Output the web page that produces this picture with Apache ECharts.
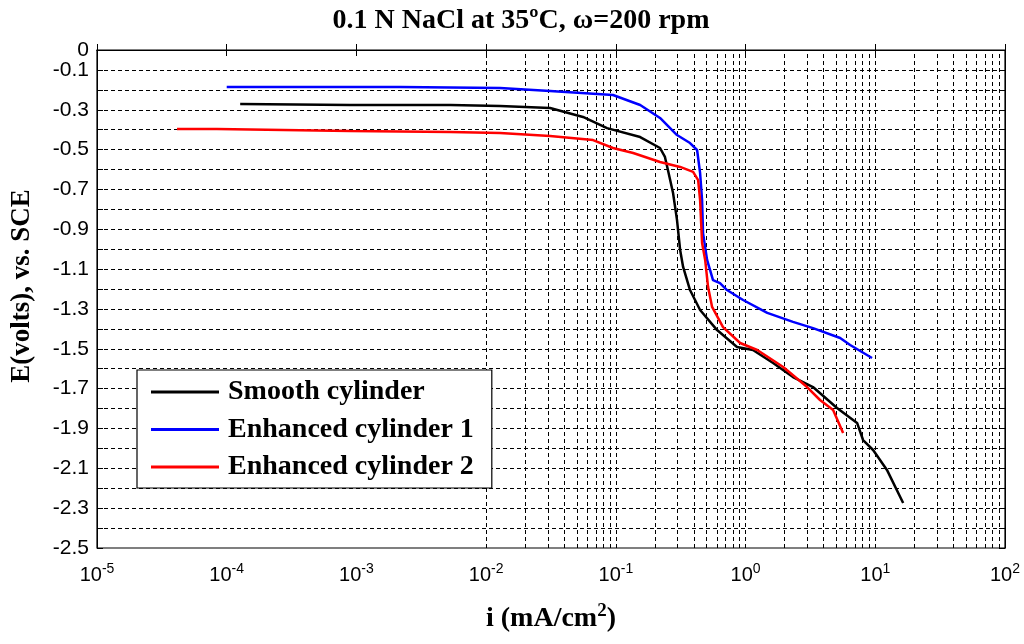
<!DOCTYPE html>
<html>
<head>
<meta charset="utf-8">
<script src="https://cdn.jsdelivr.net/npm/echarts@6/dist/echarts.min.js"></script>
<style>
html,body{margin:0;padding:0;background:#fff;}
#chart{width:1024px;height:644px;}
</style>
</head>
<body>
<div id="chart"></div>
<script>
// ---- data (current density i in mA/cm2, potential E in volts vs SCE) ----
const seriesNames = ['Smooth cylinder', 'Enhanced cylinder 1', 'Enhanced cylinder 2'];

const smoothI = [1.27e-4, 8.9e-4, 5.3e-3, 0.0128, 0.0311, 0.0558, 0.0855, 0.154, 0.219, 0.239, 0.252, 0.276, 0.296, 0.313, 0.330, 0.373, 0.446, 0.603, 0.859, 1.14, 1.63, 2.32, 3.31, 5.07, 7.24, 8.05, 9.62, 12.3, 16.4];
const smoothE = [-0.271, -0.276, -0.276, -0.281, -0.291, -0.336, -0.392, -0.437, -0.492, -0.537, -0.602, -0.718, -0.853, -1.004, -1.089, -1.205, -1.305, -1.406, -1.491, -1.506, -1.571, -1.642, -1.692, -1.797, -1.872, -1.958, -2.008, -2.108, -2.274];

const enh1I = [1.0e-4, 2.17e-3, 0.0128, 0.0311, 0.095, 0.154, 0.219, 0.296, 0.373, 0.423, 0.446, 0.462, 0.470, 0.505, 0.532, 0.561, 0.635, 0.719, 0.957, 1.47, 2.32, 3.31, 5.36, 6.40, 9.44];
const enh1E = [-0.186, -0.186, -0.191, -0.206, -0.226, -0.276, -0.341, -0.427, -0.467, -0.502, -0.617, -0.753, -0.919, -1.054, -1.104, -1.155, -1.170, -1.205, -1.255, -1.320, -1.365, -1.396, -1.446, -1.481, -1.546];

const enh2I = [4.14e-5, 8.4e-5, 8.6e-5, 8.9e-4, 5.3e-3, 0.0128, 0.0311, 0.0667, 0.095, 0.136, 0.219, 0.313, 0.394, 0.431, 0.446, 0.462, 0.488, 0.514, 0.552, 0.670, 0.908, 1.23, 1.95, 2.98, 3.75, 4.73, 5.65];
const enh2E = [-0.397, -0.397, -0.402, -0.407, -0.412, -0.417, -0.432, -0.452, -0.492, -0.517, -0.562, -0.587, -0.612, -0.653, -0.753, -0.969, -1.054, -1.190, -1.290, -1.391, -1.471, -1.506, -1.591, -1.692, -1.757, -1.807, -1.923];

const seriesColors = ['#000000', '#0000ff', '#ff0000'];

// ---- helpers ----
function zip(xs, ys) { return xs.map((x, k) => [x, ys[k]]); }
const gridLines = [];
for (let d = -5; d <= 1; d++) {
  for (let m = (d === -5 ? 2 : 1); m <= 9; m++) gridLines.push({ xAxis: m * Math.pow(10, d) });
}
for (let k = 1; k <= 24; k++) gridLines.push({ yAxis: -k / 10 });
const dash = [4, 3];

const chart = echarts.init(document.getElementById('chart'), null, { renderer: 'canvas' });

const xAxisBase = {
  type: 'log', logBase: 10, min: 1e-5, max: 100, interval: 1,
  axisLine: { show: true, lineStyle: { color: '#000', width: 1 } },
  axisTick: { show: true, inside: true, length: 6, lineStyle: { color: '#000' } },
  minorTick: { show: false },
  splitLine: { show: false }
};
const yAxisBase = {
  type: 'value', min: -2.5, max: 0, interval: 0.1,
  axisLine: { show: true, lineStyle: { color: '#000', width: 1 } },
  axisTick: { show: true, inside: true, length: 6, lineStyle: { color: '#000' } },
  splitLine: { show: false }
};
const yLabelStyle = { margin: 8, color: '#000', fontFamily: 'Liberation Sans', fontSize: 21, hideOverlap: false };

const option = {
  backgroundColor: '#fff',
  animation: false,
  grid: { left: 97, top: 50, right: 19, bottom: 96, show: true, borderColor: '#000', borderWidth: 1.2, backgroundColor: 'transparent' },
  graphic: [
    { type: 'text', x: 521, y: 7, z: 10,
      style: { text: '0.1 N NaCl at 35\u00baC, \u03c9=200 rpm', fontFamily: 'Liberation Serif', fontWeight: 'bold', fontSize: 28,
        fill: '#000', align: 'center', textAlign: 'center', verticalAlign: 'top', textVerticalAlign: 'top' } },
    { type: 'text', x: 22, y: 286, rotation: Math.PI / 2, z: 10,
      style: { text: 'E(volts), vs. SCE', fontFamily: 'Liberation Serif', fontWeight: 'bold', fontSize: 27,
        fill: '#000', align: 'center', textAlign: 'center', verticalAlign: 'middle', textVerticalAlign: 'middle' } }
  ],
  legend: {
    data: seriesNames,
    orient: 'vertical',
    left: 137, top: 370, z: 100,
    padding: [8, 18, 7, 14],
    icon: 'rect',
    itemWidth: 68, itemHeight: 3, itemGap: 9.5,
    backgroundColor: '#fff', borderColor: '#000', borderWidth: 1.2,
    textStyle: { fontFamily: 'Liberation Serif', fontWeight: 'bold', fontSize: 28, lineHeight: 28, color: '#000', padding: [0, 0, 0, 4] }
  },
  xAxis: [
    Object.assign({}, xAxisBase, {
      position: 'bottom',
      name: 'i (mA/cm{s|2})', nameLocation: 'middle', nameGap: 54,
      nameTextStyle: { fontFamily: 'Liberation Serif', fontWeight: 'bold', fontSize: 28, color: '#000',
        rich: { s: { fontFamily: 'Liberation Serif', fontWeight: 'bold', fontSize: 19, color: '#000', verticalAlign: 'top', padding: [0, 0, 14, 0] } } },
      axisLabel: {
        margin: 14, color: '#000', showMinLabel: true, showMaxLabel: true, hideOverlap: false,
        formatter: v => '{b|10}{s|' + Math.round(Math.log10(v)) + '}',
        rich: {
          b: { fontFamily: 'Liberation Sans', fontSize: 20, color: '#000' },
          s: { fontFamily: 'Liberation Sans', fontSize: 14, color: '#000', verticalAlign: 'top', padding: [0, 0, 12, 0] }
        }
      }
    }),
    Object.assign({}, xAxisBase, { position: 'top', axisLabel: { show: false } })
  ],
  yAxis: [
    Object.assign({}, yAxisBase, {
      position: 'left',
      axisLabel: Object.assign({}, yLabelStyle, {
        showMinLabel: true, showMaxLabel: false,
        formatter: v => { const n = Math.round(-v * 10); if (n === 0) return ''; return (n % 2 === 1) ? v.toFixed(1) : ''; }
      })
    }),
    Object.assign({}, yAxisBase, { position: 'right', axisLabel: { show: false } }),
    Object.assign({}, yAxisBase, {
      position: 'left', axisLine: { show: false }, axisTick: { show: false },
      axisLabel: Object.assign({}, yLabelStyle, {
        showMinLabel: false, showMaxLabel: true,
        formatter: v => (Math.round(v * 10) === 0 ? '0' : '')
      })
    })
  ],
  series: [
    {
      name: '_grid', type: 'line', xAxisIndex: 0, yAxisIndex: 0, z: 1, silent: true,
      data: [], symbol: 'none',
      markLine: { silent: true, z: 1, symbol: ['none', 'none'], label: { show: false },
        lineStyle: { color: '#000', type: dash, width: 1 }, emphasis: { disabled: true }, data: gridLines }
    },
    { name: seriesNames[0], type: 'line', z: 5, data: zip(smoothI, smoothE), showSymbol: false, symbol: 'none', color: seriesColors[0], lineStyle: { color: seriesColors[0], width: 2.5 } },
    { name: seriesNames[1], type: 'line', z: 5, data: zip(enh1I, enh1E), showSymbol: false, symbol: 'none', color: seriesColors[1], lineStyle: { color: seriesColors[1], width: 2.5 } },
    { name: seriesNames[2], type: 'line', z: 5, data: zip(enh2I, enh2E), showSymbol: false, symbol: 'none', color: seriesColors[2], lineStyle: { color: seriesColors[2], width: 2.5 } }
  ]
};
chart.setOption(option);
</script>
</body>
</html>
